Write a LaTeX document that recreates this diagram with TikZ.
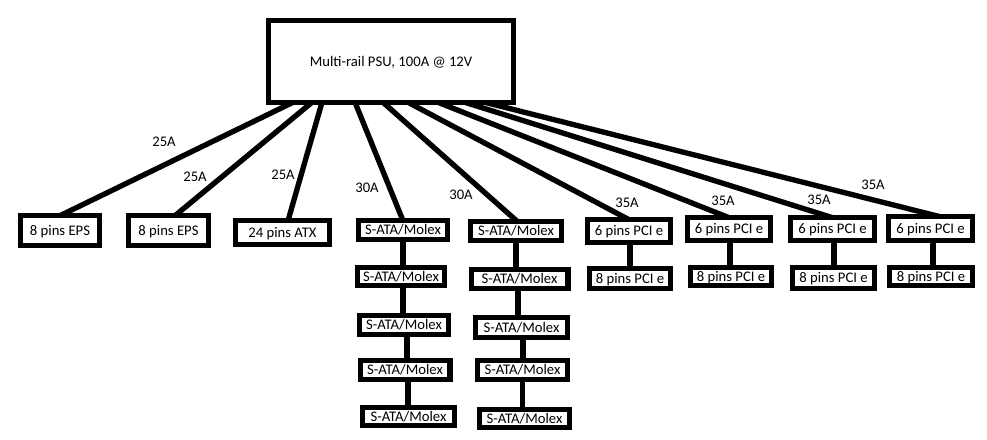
\documentclass[tikz,border=0pt]{standalone}
\usepackage{fontspec}
\setmainfont{Carlito}
\usetikzlibrary{calc}
\pgfdeclarelayer{bg}
\pgfsetlayers{bg,main}
\begin{document}
\begin{tikzpicture}[x=0.75pt,y=-0.75pt,
  box/.style={draw, line width=4pt, fill=white, inner sep=0pt, outer sep=0pt,
    font=\fontsize{11}{13}\selectfont, text height=7pt, text depth=0pt},
  sz/.style 2 args={minimum width=#1*0.75pt-4pt, minimum height=#2*0.75pt-4pt},
  amp/.style={inner sep=0pt, font=\fontsize{11}{13}\selectfont, text height=7pt, text depth=0pt},
  wire/.style={line width=4pt}]
\useasboundingbox (0,0) rectangle (987,439);
% boxes
\node[box, sz={250}{87}] (psu) at (391,61.5) {Multi-rail PSU, 100A @ 12V};
\node[box, sz={84}{35}] (eps1) at (60,230.5) {8 pins EPS};
\node[box, sz={85}{35}] (eps2) at (168.5,230.5) {8 pins EPS};
\node[box, sz={99}{29}] (atx) at (282.5,232.5) {24 pins ATX};
\node[box, sz={94}{24}] (a1) at (403,230) {S-ATA/Molex};
\node[box, sz={92}{23}] (a2) at (401,276.5) {S-ATA/Molex};
\node[box, sz={94}{24}] (a3) at (404,325) {S-ATA/Molex};
\node[box, sz={95}{24}] (a4) at (405,370) {S-ATA/Molex};
\node[box, sz={97}{23}] (a5) at (408.5,416.5) {S-ATA/Molex};
\node[box, sz={96}{24}] (b1) at (516,231) {S-ATA/Molex};
\node[box, sz={102}{24}] (b2) at (519.5,279) {S-ATA/Molex};
\node[box, sz={97}{25}] (b3) at (521.5,327.5) {S-ATA/Molex};
\node[box, sz={95}{24}] (b4) at (522.5,370) {S-ATA/Molex};
\node[box, sz={95}{23}] (b5) at (524.5,418.5) {S-ATA/Molex};
\node[box, sz={88}{28}] (p1a) at (629,231) {6 pins PCI e};
\node[box, sz={86}{25}] (p1b) at (630,278.5) {8 pins PCI e};
\node[box, sz={88}{28}] (p2a) at (729,229) {6 pins PCI e};
\node[box, sz={86}{23}] (p2b) at (731,276.5) {8 pins PCI e};
\node[box, sz={89}{28}] (p3a) at (832.5,229) {6 pins PCI e};
\node[box, sz={87}{26}] (p3b) at (833.5,278) {8 pins PCI e};
\node[box, sz={89}{29}] (p4a) at (930.5,228.5) {6 pins PCI e};
\node[box, sz={88}{23}] (p4b) at (931,276.5) {8 pins PCI e};
% labels
\node[amp] (l1) at (164,142) {25A};
\node[amp] (l2) at (195,177) {25A};
\node[amp] (l3) at (283,175) {25A};
\node[amp] (l4) at (367,188) {30A};
\node[amp] (l5) at (461,195) {30A};
\node[amp] (l6) at (627,203) {35A};
\node[amp] (l7) at (723,201) {35A};
\node[amp] (l8) at (819,200) {35A};
\node[amp] (l9) at (873,185) {35A};
% connectors
\begin{pgfonlayer}{bg}
\draw[wire] ($(psu.south)+(-98,0)$) -- (eps1.north);
\draw[wire] ($(psu.south)+(-79,0)$) -- ($(eps2.north)+(6.5,0)$);
\draw[wire] ($(psu.south)+(-69,0)$) -- ($(atx.north)+(5.5,0)$);
\draw[wire] ($(psu.south)+(-36,0)$) -- (a1.north);
\draw[wire] ($(psu.south)+(-8,0)$) -- ($(b1.north)+(1.5,0)$);
\draw[wire] ($(psu.south)+(17,0)$) -- (p1a.north);
\draw[wire] ($(psu.south)+(47,0)$) -- (p2a.north);
\draw[wire] ($(psu.south)+(74,0)$) -- (p3a.north);
\draw[wire] ($(psu.south)+(94,0)$) -- ($(p4a.north)+(9.5,0)$);
\draw[wire] (a1.south) -- (a1.south |- a2.north);
\draw[wire] (a1.south |- a2.south) -- (a1.south |- a3.north);
\draw[wire] ($(a3.south)+(3,0)$) -- ($(a3.south |- a4.north)+(3,0)$);
\draw[wire] ($(a4.south)+(3,0)$) -- ($(a4.south |- a5.north)+(3,0)$);
\draw[wire] (b1.south) -- (b1.south |- b2.north);
\draw[wire] ($(b2.south)+(-1.5,0)$) -- ($(b2.south |- b3.north)+(-1.5,0)$);
\draw[wire] ($(b3.south)+(1.5,0)$) -- ($(b3.south |- b4.north)+(1.5,0)$);
\draw[wire] (b4.south) -- (b4.south |- b5.north);
\draw[wire] ($(p1a.south)+(1,0)$) -- ($(p1a.south |- p1b.north)+(1,0)$);
\draw[wire] ($(p2a.south)+(1,0)$) -- ($(p2a.south |- p2b.north)+(1,0)$);
\draw[wire] ($(p3a.south)+(1.5,0)$) -- ($(p3a.south |- p3b.north)+(1.5,0)$);
\draw[wire] ($(p4a.south)+(2.5,0)$) -- ($(p4a.south |- p4b.north)+(2.5,0)$);
\end{pgfonlayer}
\end{tikzpicture}
\end{document}
